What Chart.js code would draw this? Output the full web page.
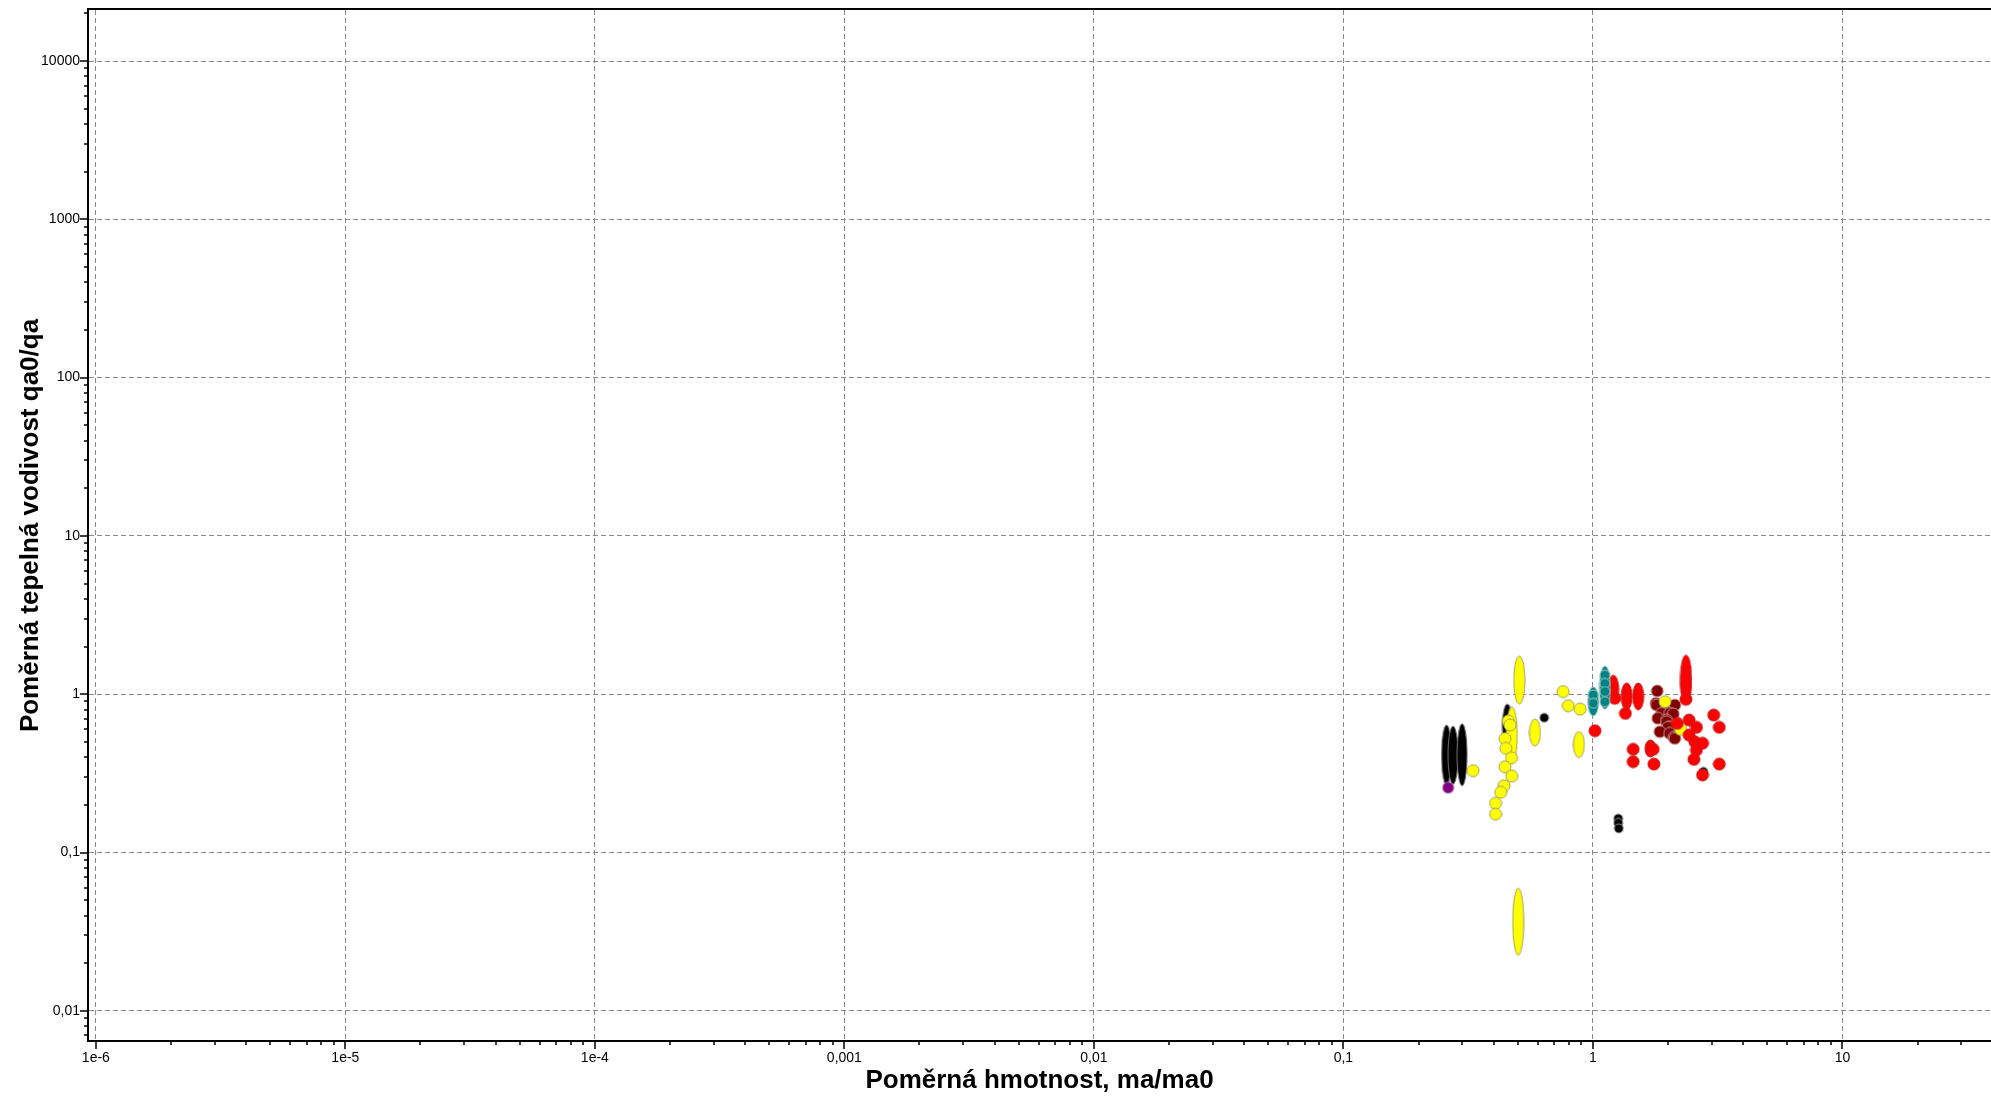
<!DOCTYPE html>
<html>
<head>
<meta charset="utf-8">
<script src="https://cdn.jsdelivr.net/npm/chart.js@4.4.1/dist/chart.umd.min.js"></script>
<style>
  html, body { margin: 0; padding: 0; background: #fff; }
  #wrap { width: 1991px; height: 1099px; }
</style>
</head>
<body>
<div id="wrap"><canvas id="chart" width="1991" height="1099"></canvas></div>
<script>
// osy (log)
const xTickValues = [1e-6, 1e-5, 1e-4, 1e-3, 1e-2, 1e-1, 1, 10];
const xTickLabels = ['1e-6', '1e-5', '1e-4', '0,001', '0,01', '0,1', '1', '10'];
const yTickValues = [0.01, 0.1, 1, 10, 100, 1000, 10000];
const yTickLabels = ['0,01', '0,1', '1', '10', '100', '1000', '10000'];

// body - x = ma/ma0, y = qa0/qa ; elipsy maji rozsah lo..hi
const blackEllipses = [
    { x: 0.259, lo: 0.267, hi: 0.64 },
    { x: 0.275, lo: 0.27, hi: 0.63 },
    { x: 0.299, lo: 0.265, hi: 0.65 },
    { x: 0.454, lo: 0.45, hi: 0.87 }
];
const blackDots = [
    { x: 0.638, y: 0.711 },
    { x: 1.263, y: 0.164 },
    { x: 1.263, y: 0.154 },
    { x: 1.27, y: 0.142 },
    { x: 2.77, y: 0.324 }
];
const purpleDots = [
    { x: 0.263, y: 0.257 }
];
const yellowEllipses = [
    { x: 0.507, lo: 0.867, hi: 1.74 },
    { x: 0.473, lo: 0.367, hi: 0.83 },
    { x: 0.586, lo: 0.471, hi: 0.697 },
    { x: 0.879, lo: 0.399, hi: 0.58 },
    { x: 0.502, lo: 0.0225, hi: 0.0594 }
];
const yellowDots = [
    { x: 0.331, y: 0.329 },
    { x: 0.458, y: 0.677 },
    { x: 0.465, y: 0.639 },
    { x: 0.444, y: 0.524 },
    { x: 0.448, y: 0.455 },
    { x: 0.472, y: 0.397 },
    { x: 0.444, y: 0.348 },
    { x: 0.473, y: 0.304 },
    { x: 0.44, y: 0.264 },
    { x: 0.427, y: 0.24 },
    { x: 0.407, y: 0.205 },
    { x: 0.407, y: 0.175 },
    { x: 0.76, y: 1.04 },
    { x: 0.796, y: 0.846 },
    { x: 0.889, y: 0.806 },
    { x: 1.944, y: 0.897 },
    { x: 2.246, y: 0.6 }
];
const tealEllipses = [
    { x: 1.003, lo: 0.728, hi: 1.115 },
    { x: 1.117, lo: 0.803, hi: 1.51 }
];
const tealDots = [
    { x: 1.117, y: 1.32 },
    { x: 1.117, y: 1.17 },
    { x: 1.117, y: 1.04 },
    { x: 1.117, y: 0.897 },
    { x: 1.003, y: 0.99 },
    { x: 1.003, y: 0.876 }
];
const redEllipses = [
    { x: 1.206, lo: 0.876, hi: 1.32 },
    { x: 1.365, lo: 0.795, hi: 1.18 },
    { x: 1.519, lo: 0.795, hi: 1.18 },
    { x: 2.36, lo: 0.942, hi: 1.77 },
    { x: 2.36, lo: 0.9, hi: 1.45 },
    { x: 1.70, lo: 0.401, hi: 0.514 }
];
const redDots = [
    { x: 1.019, y: 0.588 },
    { x: 1.224, y: 0.942 },
    { x: 1.35, y: 0.757 },
    { x: 2.36, y: 0.929 },
    { x: 1.45, y: 0.449 },
    { x: 1.45, y: 0.375 },
    { x: 1.745, y: 0.449 },
    { x: 1.756, y: 0.362 },
    { x: 2.18, y: 0.655 },
    { x: 2.43, y: 0.687 },
    { x: 2.43, y: 0.552 },
    { x: 2.60, y: 0.618 },
    { x: 2.56, y: 0.501 },
    { x: 2.75, y: 0.49 },
    { x: 2.60, y: 0.444 },
    { x: 2.54, y: 0.388 },
    { x: 3.05, y: 0.739 },
    { x: 3.21, y: 0.618 },
    { x: 3.21, y: 0.362 },
    { x: 2.75, y: 0.309 }
];
const maroonDots = [
    { x: 1.81, y: 1.05 },
    { x: 1.79, y: 0.876 },
    { x: 1.80, y: 0.855 },
    { x: 1.974, y: 0.834 },
    { x: 2.13, y: 0.855 },
    { x: 1.885, y: 0.757 },
    { x: 2.03, y: 0.757 },
    { x: 2.10, y: 0.75 },
    { x: 1.82, y: 0.705 },
    { x: 1.974, y: 0.687 },
    { x: 1.974, y: 0.67 },
    { x: 2.05, y: 0.623 },
    { x: 2.0, y: 0.618 },
    { x: 1.855, y: 0.58 },
    { x: 2.03, y: 0.566 },
    { x: 2.11, y: 0.534 },
    { x: 2.13, y: 0.526 }
];

Chart.defaults.font.family = "'Liberation Sans', Arial, sans-serif";
Chart.defaults.color = '#000';

// vsechny znacky 1..9 v kazde dekade
function logTicks(scale) {
    const ticks = [];
    for (let k = Math.floor(Math.log10(scale.min)); k <= Math.ceil(Math.log10(scale.max)); k++) {
        for (let m = 1; m <= 9; m++) {
            const v = parseFloat((m * Math.pow(10, k)).toPrecision(6));
            if (v >= scale.min && v <= scale.max) ticks.push({ value: v, major: m === 1 });
        }
    }
    scale.ticks = ticks;
}

function labelFor(values, labels) {
    return function (value) {
        const i = values.findIndex(v => Math.abs(Math.log10(v) - Math.log10(value)) < 1e-6);
        return i >= 0 ? labels[i] : '';
    };
}

const spriteCache = {};
function sprite(fill, stroke, rx, ry) {
    if (!isFinite(ry) || ry < rx) ry = rx;
    ry = Math.round(ry * 2) / 2;
    const key = fill + '|' + stroke + '|' + rx + '|' + ry;
    if (spriteCache[key]) return spriteCache[key];
    const c = document.createElement('canvas');
    c.width = Math.ceil(rx * 2 + 2);
    c.height = Math.ceil(ry * 2 + 2);
    const g = c.getContext('2d');
    g.beginPath();
    g.ellipse(c.width / 2, c.height / 2, rx, ry, 0, 0, Math.PI * 2);
    g.fillStyle = fill;
    g.fill();
    g.lineWidth = 1;
    g.strokeStyle = stroke;
    g.stroke();
    spriteCache[key] = c;
    return c;
}

function series(label, points, fill, stroke, rx, order) {
    return {
        label: label,
        order: order,
        data: points.map(p => p.lo !== undefined ? { x: p.x, y: Math.sqrt(p.lo * p.hi), lo: p.lo, hi: p.hi } : p),
        pointRadius: rx,
        pointHoverRadius: rx,
        pointStyle: function (ctx) {
            const p = ctx.raw;
            let ry = rx;
            if (p && p.lo !== undefined) {
                const ys = ctx.chart.scales.y;
                ry = Math.abs(ys.getPixelForValue(p.lo) - ys.getPixelForValue(p.hi)) / 2;
            }
            return sprite(fill, stroke, rx, ry);
        }
    };
}

const tickMarks = {
    id: 'tickMarks',
    afterDraw(chart) {
        const { ctx, chartArea: a, scales: { x, y } } = chart;
        ctx.save();
        ctx.strokeStyle = '#000';
        ctx.lineWidth = 1.5;
        ctx.beginPath();
        x.ticks.forEach(t => {
            const px = Math.round(x.getPixelForValue(t.value));
            ctx.moveTo(px, a.bottom);
            ctx.lineTo(px, a.bottom + (t.major ? 8 : 4));
        });
        y.ticks.forEach(t => {
            const py = Math.round(y.getPixelForValue(t.value));
            ctx.moveTo(a.left, py);
            ctx.lineTo(a.left - (t.major ? 8 : 4), py);
        });
        ctx.stroke();
        // horni ramecek
        ctx.lineWidth = 2;
        ctx.beginPath();
        ctx.moveTo(a.left - 1, a.top - 1);
        ctx.lineTo(a.right, a.top - 1);
        ctx.stroke();
        ctx.restore();
    }
};

const gridColor = ctx => (ctx.tick && ctx.tick.major) ? '#8a8a8a' : 'rgba(0,0,0,0)';

new Chart(document.getElementById('chart'), {
    type: 'scatter',
    data: {
        datasets: [
            series('teal dots', tealDots, '#008080', '#9cc4c4', 5, 1),
            series('teal', tealEllipses, '#008080', '#9cc4c4', 5.5, 2),
            series('red dots', redDots, '#ff0000', '#c02020', 6, 3),
            series('red', redEllipses, '#ff0000', '#c02020', 5.5, 4),
            series('yellow dots', yellowDots, '#ffff00', '#a4a060', 6, 5),
            series('yellow', yellowEllipses, '#ffff00', '#a4a060', 5.5, 6),
            series('maroon', maroonDots, '#800000', '#c09090', 6, 7),
            series('purple', purpleDots, '#800080', '#a060a0', 5.5, 8),
            series('black dots', blackDots, '#000000', '#909090', 4.5, 9),
            series('black', blackEllipses, '#000000', '#707070', 5, 10)
        ]
    },
    options: {
        responsive: false,
        animation: false,
        layout: {
            autoPadding: false,
            padding: { top: 10, right: 0, bottom: 0, left: 0 }
        },
        plugins: {
            legend: { display: false },
            tooltip: { enabled: false }
        },
        scales: {
            x: {
                type: 'logarithmic',
                min: 9.3e-7,
                max: 39.4,
                afterBuildTicks: logTicks,
                afterFit: s => { s.height = 58; s.paddingLeft = 0; s.paddingRight = 0; },
                grid: { color: gridColor, lineWidth: 1, drawTicks: false },
                border: { display: true, color: '#000', width: 2, dash: [5, 3] },
                ticks: {
                    autoSkip: false,
                    maxRotation: 0,
                    padding: 9,
                    font: { size: 14 },
                    callback: labelFor(xTickValues, xTickLabels)
                },
                title: {
                    display: true,
                    text: 'Poměrná hmotnost, ma/ma0',
                    font: { size: 26, weight: 'bold' },
                    padding: { top: 0, bottom: 3 }
                }
            },
            y: {
                type: 'logarithmic',
                min: 0.00645,
                max: 21000,
                afterBuildTicks: logTicks,
                afterFit: s => { s.width = 88; s.paddingTop = 0; s.paddingBottom = 0; },
                grid: { color: gridColor, lineWidth: 1, drawTicks: false },
                border: { display: true, color: '#000', width: 2, dash: [5, 3] },
                ticks: {
                    autoSkip: false,
                    padding: 8,
                    font: { size: 14 },
                    callback: labelFor(yTickValues, yTickLabels)
                },
                title: {
                    display: true,
                    text: 'Poměrná tepelná vodivost qa0/qa',
                    font: { size: 26, weight: 'bold' },
                    padding: { top: 15, bottom: 0 }
                }
            }
        }
    },
    plugins: [tickMarks]
});
</script>
</body>
</html>
